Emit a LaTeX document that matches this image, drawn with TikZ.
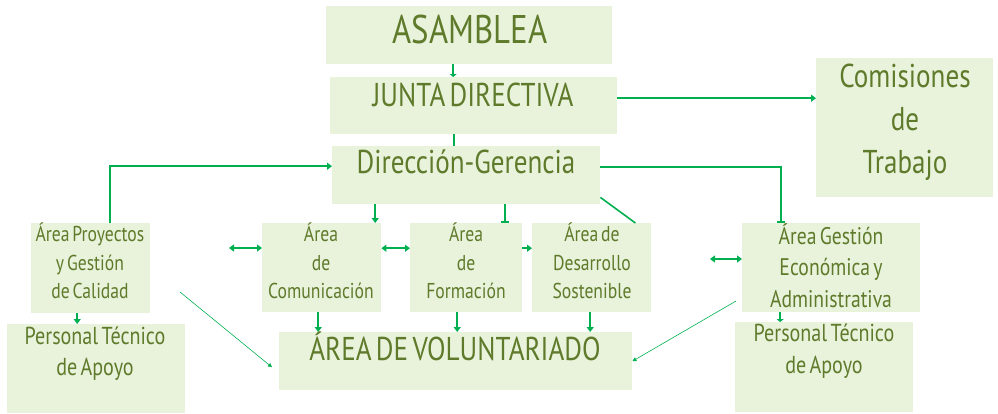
\documentclass[tikz,border=0pt]{standalone}
\usepackage{fontspec}
\setmainfont{PT Sans}[FakeStretch=0.82, WordSpace=0.6]
\usetikzlibrary{arrows.meta, positioning, calc}
\definecolor{boxgreen}{RGB}{233,243,220}
\definecolor{textolive}{RGB}{94,122,42}
\definecolor{linegreen}{RGB}{0,176,80}

\begin{document}
\begin{tikzpicture}[
    x=1pt, y=1pt,
    box/.style={rectangle, fill=boxgreen, inner sep=0pt, anchor=north west},
    txt/.style={text=textolive, anchor=base, inner sep=0pt, align=flush center},
    conn/.style={draw=linegreen, line width=1.6pt},
    arr/.style={conn, -{Triangle[length=5pt, width=7pt]}},
    dbl/.style={conn, {Triangle[length=5pt, width=7pt]}-{Triangle[length=5pt, width=7pt]}},
    barr/.style={conn, -{Bar[width=8pt]}},
    thin/.style={draw=linegreen, line width=0.6pt, -{Triangle[length=4pt, width=4pt]}}
]
    \useasboundingbox (0,0) rectangle (998,-413);

    % Boxes
    \node[box, minimum width=286pt, minimum height=58pt] (asm) at (326,-6) {};
    \node[box, minimum width=287pt, minimum height=57pt] (jd) at (330,-77) {};
    \node[box, minimum width=268pt, minimum height=58pt] (dg) at (332,-146) {};
    \node[box, minimum width=177pt, minimum height=139pt] (cot) at (816,-58) {};
    \node[box, minimum width=119pt, minimum height=90pt] (apg) at (31,-223) {};
    \node[box, minimum width=178pt, minimum height=89pt] (ptl) at (7,-324) {};
    \node[box, minimum width=119pt, minimum height=89pt] (aco) at (262,-223) {};
    \node[box, minimum width=112pt, minimum height=89pt] (afo) at (410,-223) {};
    \node[box, minimum width=119pt, minimum height=89pt] (ads) at (532,-223) {};
    \node[box, minimum width=178pt, minimum height=89pt] (age) at (742,-223) {};
    \node[box, minimum width=178pt, minimum height=90pt] (ptr) at (735,-322) {};
    \node[box, minimum width=353pt, minimum height=58pt] (avo) at (279,-332) {};

    % Free ends
    \coordinate (comleft) at (229,-248);
    \coordinate (geleft) at (710,-259);
    \coordinate (apgdiag) at (180,-292);
    \coordinate (gediag) at (736,-301);

    % Connectors
    \draw[conn, -{Triangle[length=3pt, width=7pt]}] ([xshift=-16pt]asm.south) -- ([xshift=-16pt]asm.south |- jd.north);
    \draw[conn] ([xshift=-20pt]jd.south) -- ([xshift=-20pt]jd.south |- dg.north);
    \draw[arr] ([yshift=7.5pt]jd.east) -- ([yshift=7.5pt]jd.east -| cot.west);
    \draw[arr] ([xshift=19.5pt]apg.north) |- ([yshift=9pt]dg.west);
    \draw[arr] ([xshift=-91pt]dg.south) -- ([xshift=-91pt]dg.south |- aco.north);
    \draw[barr] ([xshift=39pt]dg.south) -- ([xshift=39pt]dg.south |- afo.north);
    \draw[barr] ([yshift=8pt]dg.east) -| ([xshift=-50pt]age.north);
    \draw[conn] ([yshift=7pt]dg.south east) -- ([xshift=-16pt]ads.north east);
    \draw[dbl] (comleft) -- (comleft -| aco.west);
    \draw[dbl] ([yshift=19.5pt]aco.east) -- ([yshift=19.5pt]afo.west);
    \draw[arr] ([yshift=19.5pt]afo.east) -- ([yshift=19.5pt]ads.west);
    \draw[dbl] (geleft) -- (geleft -| age.west);
    \draw[arr] ([xshift=-3.5pt]aco.south) -- ([xshift=-3.5pt]aco.south |- avo.north);
    \draw[arr] ([xshift=-9pt]afo.south) -- ([xshift=-9pt]afo.south |- avo.north);
    \draw[arr] ([xshift=-1.5pt]ads.south) -- ([xshift=-1.5pt]ads.south |- avo.north);
    \draw[arr] ([xshift=-13.5pt]apg.south) -- ([xshift=-13.5pt]apg.south |- ptl.north);
    \draw[conn, -{Triangle[length=3pt, width=7pt]}] ([xshift=-51pt]age.south) -- ([xshift=-51pt]age.south |- ptr.north);
    \draw[thin] (apgdiag) -- ([xshift=-7pt, yshift=-6pt]avo.west);
    \draw[thin] (gediag) -- (avo.east);

    % Texts
    \node[txt, font=\fontsize{40}{48}\selectfont] (asmt) at (470,-43) {ASAMBLEA};
    \node[txt, font=\fontsize{33}{40}\selectfont] (jdt) at (473,-106) {JUNTA DIRECTIVA};
    \node[txt, font=\fontsize{33}{40}\selectfont] (dgt) at (466,-173) {Dirección-Gerencia};
    \node[txt, text width=170pt, font=\fontsize{33}{43}\selectfont] (cott) at (905,-87) {Comisiones\\ de\\ Trabajo};
    \node[txt, text width=120pt, font=\fontsize{21.5}{28.3}\selectfont] (apgt) at (90,-241.7) {Área Proyectos\\ y Gestión\\ de Calidad};
    \node[txt, text width=120pt, font=\fontsize{21.5}{28.3}\selectfont] (acot) at (321,-241.7) {Área\\ de\\ Comunicación};
    \node[txt, text width=110pt, font=\fontsize{21.5}{28.3}\selectfont] (afot) at (466,-241.7) {Área\\ de\\ Formación};
    \node[txt, text width=120pt, font=\fontsize{21.5}{28.3}\selectfont] (adst) at (592,-241.7) {Área de\\ Desarrollo\\ Sostenible};
    \node[txt, text width=175pt, font=\fontsize{24}{31.5}\selectfont] (aget) at (831,-244) {Área Gestión\\ Económica y\\ Administrativa};
    \node[txt, text width=175pt, font=\fontsize{24.5}{31.7}\selectfont] (ptlt) at (95,-344) {Personal Técnico\\ de Apoyo};
    \node[txt, text width=175pt, font=\fontsize{24.5}{31.7}\selectfont] (ptrt) at (824,-341.7) {Personal Técnico\\ de Apoyo};
    \node[txt, font=\fontsize{33}{40}\selectfont] (avot) at (455,-360) {ÁREA DE VOLUNTARIADO};
\end{tikzpicture}
\end{document}
